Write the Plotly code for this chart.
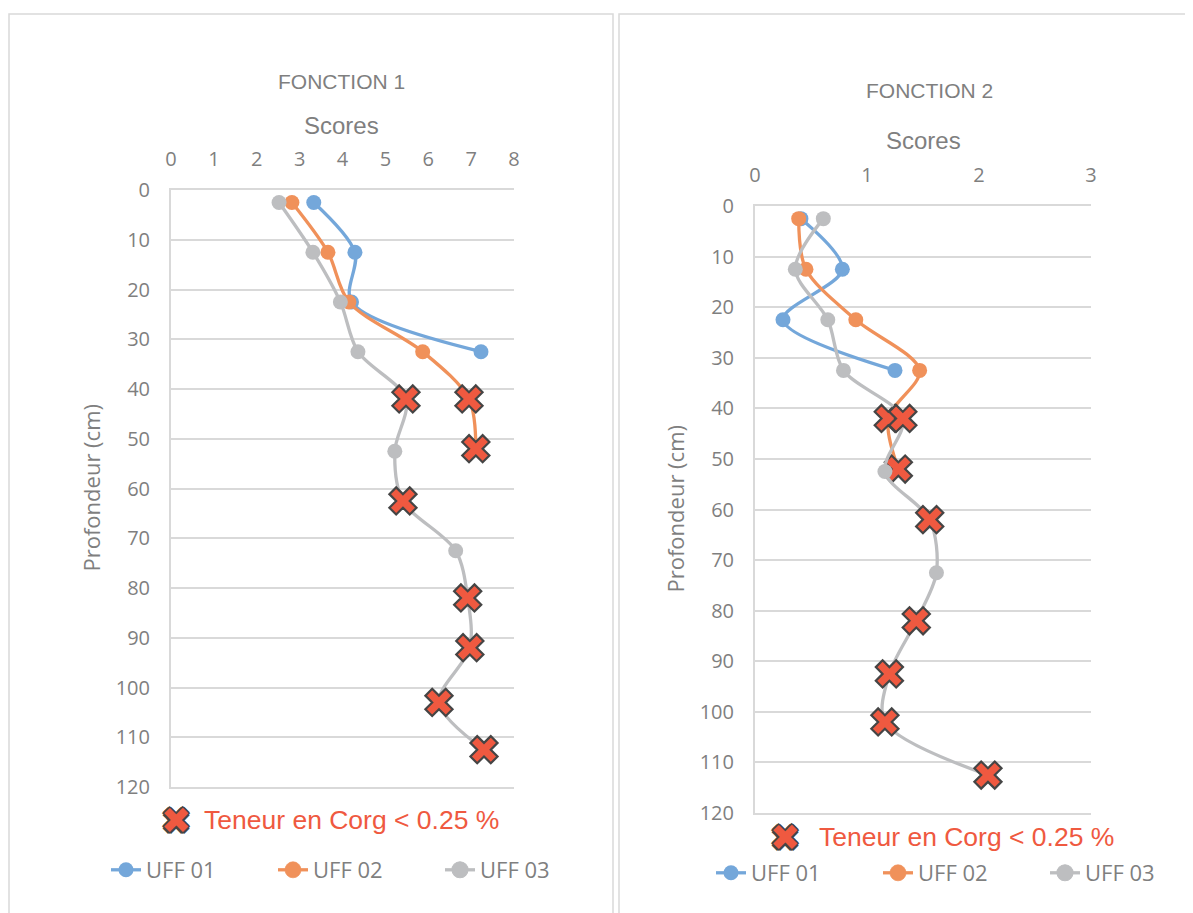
import plotly.graph_objects as go

# ---------------- data ----------------
# FONCTION 1
f1_blue_depth = [2.5, 12.5, 22.5, 32.5]
f1_blue_score = [3.33, 4.29, 4.21, 7.23]
f1_blue_low = [0, 0, 0, 0]

f1_orange_depth = [2.5, 12.5, 22.5, 32.5, 42, 52]
f1_orange_score = [2.82, 3.66, 4.15, 5.87, 6.95, 7.11]
f1_orange_low = [0, 0, 0, 0, 1, 1]

f1_gray_depth = [2.5, 12.5, 22.5, 32.5, 42, 52.5, 62.5, 72.5, 82, 92, 103, 112.5]
f1_gray_score = [2.52, 3.31, 3.95, 4.36, 5.48, 5.22, 5.41, 6.64, 6.92, 6.97, 6.25, 7.30]
f1_gray_low = [0, 0, 0, 0, 1, 0, 1, 0, 1, 1, 1, 1]

# FONCTION 2
f2_blue_depth = [2.5, 12.5, 22.5, 32.5]
f2_blue_score = [0.41, 0.78, 0.25, 1.25]
f2_blue_low = [0, 0, 0, 0]

f2_orange_depth = [2.5, 12.5, 22.5, 32.5, 42, 52]
f2_orange_score = [0.39, 0.455, 0.90, 1.47, 1.19, 1.28]
f2_orange_low = [0, 0, 0, 0, 1, 1]

f2_gray_depth = [2.5, 12.5, 22.5, 32.5, 42, 52.5, 62, 72.5, 82, 92.5, 102, 112.5]
f2_gray_score = [0.61, 0.36, 0.65, 0.79, 1.32, 1.16, 1.56, 1.62, 1.44, 1.20, 1.16, 2.08]
f2_gray_low = [0, 0, 0, 0, 1, 0, 1, 0, 1, 1, 1, 1]

series_names = ["UFF 01", "UFF 02", "UFF 03"]
panel_titles = ["FONCTION 1", "FONCTION 2"]
x_title = "Scores"
y_title = "Profondeur (cm)"
corg_label = "Teneur en Corg < 0.25 %"

# ---------------- style ----------------
OFF = 8                      # page body margin of the html page
W, H = 1193 - OFF, 913 - OFF
COLORS = ["#74A7DA", "#F0915A", "#BDBEC0"]
CROSS = "#EF5940"
OUTLINE = "#454545"
GRID = "#D9D9D9"
TXT = "#7F7F7F"
TICKFONT = dict(family="Open Sans", size=20, color=TXT)


def px(x):
    return (x - OFF) / W


def py(y):
    return 1 - (y - OFF) / H


def add_series(fig, depth, score, low, color, name, xa, ya, legend):
    symbols = ["x" if f else "circle" for f in low]
    mcolors = [CROSS if f else color for f in low]
    sizes = [24 if f else 15 for f in low]
    lcolors = [OUTLINE if f else color for f in low]
    lwidths = [2.2 if f else 0 for f in low]
    fig.add_trace(go.Scatter(
        x=score, y=depth, mode="lines+markers", name=name,
        xaxis=xa, yaxis=ya, legend=legend,
        line=dict(color=color, width=3.3, shape="spline", smoothing=0.9),
        marker=dict(symbol=symbols, color=mcolors, size=sizes, opacity=1,
                    line=dict(color=lcolors, width=lwidths)),
        hoverinfo="x+y",
    ))


fig = go.Figure()

panels = [
    dict(xa="x", ya="y", legend="legend",
         data=[(f1_blue_depth, f1_blue_score, f1_blue_low),
               (f1_orange_depth, f1_orange_score, f1_orange_low),
               (f1_gray_depth, f1_gray_score, f1_gray_low)]),
    dict(xa="x2", ya="y2", legend="legend2",
         data=[(f2_blue_depth, f2_blue_score, f2_blue_low),
               (f2_orange_depth, f2_orange_score, f2_orange_low),
               (f2_gray_depth, f2_gray_score, f2_gray_low)]),
]
for p in panels:
    for (d, s, lo), c, n in zip(p["data"], COLORS, series_names):
        add_series(fig, d, s, lo, c, n, p["xa"], p["ya"], p["legend"])

# plot-area geometry (pixels in the reference)
L1, R1, T1, B1 = 171, 514, 190, 787
L2, R2, T2, B2 = 755, 1091, 206, 813

xcommon = dict(side="top", showgrid=False, zeroline=False, showline=True, mirror=True,
               linecolor=GRID, linewidth=2, ticks="", tickfont=TICKFONT,
               ticklabelstandoff=14, fixedrange=True)
ycommon = dict(autorange=False, showgrid=True, gridcolor=GRID, gridwidth=1.6,
               zeroline=False, showline=True, linecolor=GRID, linewidth=2,
               ticks="", tickfont=TICKFONT, dtick=10, tick0=0,
               ticklabelstandoff=15, fixedrange=True)

LEGFONT = dict(family="Open Sans", size=22, color=TXT)

fig.update_layout(
    width=W, height=H, autosize=False,
    margin=dict(l=0, r=0, t=0, b=0, autoexpand=False),
    paper_bgcolor="white", plot_bgcolor="white",
    xaxis=dict(domain=[px(L1), px(R1)], range=[0, 8], dtick=1, anchor="y", **xcommon),
    yaxis=dict(domain=[py(B1), py(T1)], range=[120, 0], anchor="x", **ycommon),
    xaxis2=dict(domain=[px(L2), px(R2)], range=[0, 3], dtick=1, anchor="y2", **xcommon),
    yaxis2=dict(domain=[py(B2), py(T2)], range=[120, 0], anchor="x2", **ycommon),
    legend=dict(orientation="h", x=px(106), y=py(870), xanchor="left", yanchor="middle",
                font=LEGFONT, entrywidth=122, entrywidthmode="pixels", itemwidth=30,
                bgcolor="rgba(0,0,0,0)"),
    legend2=dict(orientation="h", x=px(711), y=py(873), xanchor="left", yanchor="middle",
                 font=LEGFONT, entrywidth=122, entrywidthmode="pixels", itemwidth=30,
                 bgcolor="rgba(0,0,0,0)"),
    showlegend=True,
)

# panel borders
fig.add_shape(type="rect", xref="paper", yref="paper", x0=px(9), x1=px(613),
              y0=-0.02, y1=py(14), line=dict(color=GRID, width=1.5), layer="below")
fig.add_shape(type="rect", xref="paper", yref="paper", x0=px(619), x1=1.02,
              y0=-0.02, y1=py(14), line=dict(color=GRID, width=1.5), layer="below")

ann = []
title_font = dict(family="Liberation Sans", size=21, color=TXT)
xt_font = dict(family="Liberation Sans", size=24, color=TXT)
yt_font = dict(family="Open Sans", size=22, color=TXT)
corg_font = dict(family="Liberation Sans", size=26.5, color=CROSS)
cross_font = dict(family="DejaVu Sans", size=36, color=CROSS,
                  shadow="2px 0 0 #454545, -2px 0 0 #454545, 0 2px 0 #454545, 0 -2px 0 #454545, "
                         "1.5px 1.5px 0 #454545, -1.5px -1.5px 0 #454545, 1.5px -1.5px 0 #454545, -1.5px 1.5px 0 #454545")

for (tx, ty, sx, sy, ax_x, cx, cy, lx, ly) in [
    (341, 82, 341, 125, 90, 176, 820, 202, 820),
    (929, 90, 923, 140, 675, 785, 837, 817, 837),
]:
    i = 0 if tx < 600 else 1
    ann.append(dict(text=panel_titles[i], x=px(tx), y=py(ty), xref="paper", yref="paper",
                    showarrow=False, font=title_font, xanchor="center", yanchor="middle"))
    ann.append(dict(text=x_title, x=px(sx), y=py(sy), xref="paper", yref="paper",
                    showarrow=False, font=xt_font, xanchor="center", yanchor="middle"))
    mid = (T1 + B1) / 2 if i == 0 else (T2 + B2) / 2
    ann.append(dict(text=y_title, x=px(ax_x), y=py(mid), xref="paper", yref="paper",
                    showarrow=False, font=yt_font, textangle=-90,
                    xanchor="center", yanchor="middle"))
    ann.append(dict(text="✖", x=px(cx), y=py(cy), xref="paper", yref="paper",
                    showarrow=False, font=cross_font, xanchor="center", yanchor="middle"))
    ann.append(dict(text=corg_label, x=px(lx), y=py(ly), xref="paper", yref="paper",
                    showarrow=False, font=corg_font, xanchor="left", yanchor="middle"))

fig.update_layout(annotations=ann)

fig.write_html("out.html")
